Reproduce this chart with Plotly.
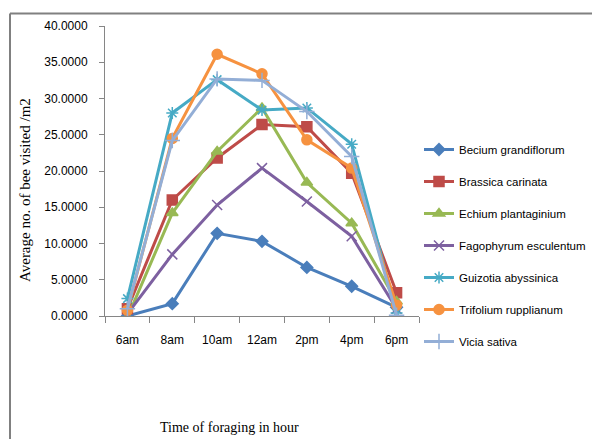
import plotly.graph_objects as go

hours = ["6am", "8am", "10am", "12am", "2pm", "4pm", "6pm"]

becium = [0.0, 1.7, 11.4, 10.3, 6.7, 4.1, 1.2]
brassica = [1.0, 16.0, 21.8, 26.4, 26.1, 19.7, 3.2]
echium = [-0.2, 14.2, 22.7, 28.7, 18.4, 12.8, 2.0]
fagopyrum = [0.3, 8.5, 15.3, 20.4, 15.8, 11.0, 1.0]
guizotia = [2.4, 28.0, 32.6, 28.4, 28.7, 23.7, 0.4]
trifolium = [0.8, 24.5, 36.1, 33.4, 24.3, 20.4, 1.5]
vicia = [1.0, 24.2, 32.7, 32.5, 28.2, 22.0, 0.1]

series = [
    ("Becium grandiflorum", becium, "#4A7EBB", "diamond", 9),
    ("Brassica carinata", brassica, "#BE4B48", "square", 10),
    ("Echium plantaginium", echium, "#98B954", "triangle-up", 10),
    ("Fagophyrum esculentum", fagopyrum, "#7D60A0", "x-thin-open", 10),
    ("Guizotia abyssinica", guizotia, "#46AAC5", "asterisk-open", 10),
    ("Trifolium rupplianum", trifolium, "#F69240", "circle", 10),
    ("Vicia sativa", vicia, "#93AED6", "cross-thin-open", 11),
]

sans = "Liberation Sans, Arial, sans-serif"
serif = "Liberation Serif, Times New Roman, serif"

fig = go.Figure()
for i, (name, vals, color, sym, sz) in enumerate(series):
    fig.add_trace(go.Scatter(
        x=hours, y=vals, name=name, mode="lines+markers",
        line=dict(color=color, width=3),
        marker=dict(symbol=sym, size=sz, color=color,
                    line=dict(color=color, width=1.5)),
        legendgroup=f"g{i}",
    ))

L, R, T, B = 105, 173, 26, 123
W, H = 592, 439
pw, ph = W - L - R, H - T - B

def px(X):
    return (X - L) / pw

def py(Y):
    return (H - B - Y) / ph

fig.update_layout(
    width=W, height=H,
    margin=dict(l=L, r=R, t=T, b=B, pad=0, autoexpand=False),
    paper_bgcolor="white", plot_bgcolor="white",
    showlegend=True,
    legend=dict(
        x=px(419), y=py(135), xanchor="left", yanchor="top",
        font=dict(family=sans, size=11.5, color="#000000"),
        tracegroupgap=13, itemwidth=30,
        bgcolor="rgba(0,0,0,0)",
    ),
    xaxis=dict(
        type="category", range=[-0.5, 6.5], automargin=False,
        showgrid=False, zeroline=False,
        showline=True, linecolor="#868686", linewidth=1,
        ticks="outside", tickson="boundaries", ticklen=6, tickcolor="#868686",
        tickangle=0,
        tickfont=dict(family=sans, size=12, color="#000000"),
        ticklabelstandoff=13,
    ),
    yaxis=dict(
        range=[0, 40], automargin=False,
        tickvals=[0, 5, 10, 15, 20, 25, 30, 35, 40],
        ticktext=[f"{v:.4f}" for v in [0, 5, 10, 15, 20, 25, 30, 35, 40]],
        showgrid=False, zeroline=False,
        showline=True, linecolor="#868686", linewidth=1,
        ticks="outside", ticklen=5, tickcolor="#868686",
        tickfont=dict(family=sans, size=12, color="#000000"),
        ticklabelstandoff=9,
    ),
    shapes=[
        dict(type="line", xref="paper", yref="paper",
             x0=px(10), x1=px(600), y0=py(13.5), y1=py(13.5),
             line=dict(color="#808080", width=2)),
        dict(type="line", xref="paper", yref="paper",
             x0=px(10), x1=px(10), y0=py(13.5), y1=py(445),
             line=dict(color="#808080", width=2)),
    ],
    annotations=[
        dict(text="Average no. of bee visited /m2", xref="paper", yref="paper",
             x=px(25), y=py(190), textangle=-90, showarrow=False,
             xanchor="center", yanchor="middle",
             font=dict(family=serif, size=15, color="#000000")),
        dict(text="Time of foraging in hour", xref="paper", yref="paper",
             x=px(229), y=py(428), showarrow=False,
             xanchor="center", yanchor="middle",
             font=dict(family=serif, size=14, color="#000000")),
    ],
)

fig.write_html(
    "out.html",
    config={"displayModeBar": False},
    post_script="document.body.style.margin='0';document.body.style.overflow='hidden';",
)
